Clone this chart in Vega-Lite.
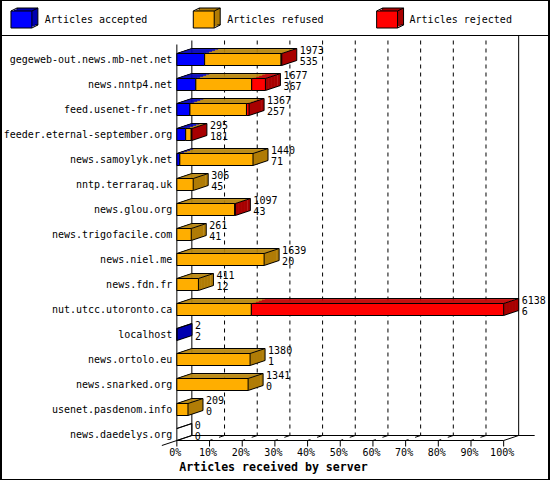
{
  "$schema": "https://vega.github.io/schema/vega-lite/v6.json",
  "width": 550,
  "height": 480,
  "autosize": {"type": "fit", "contains": "padding"},
  "padding": 0,
  "background": "white",
  "data": {
    "values": [
      {"kind": "frame", "zero": 0, "hundred": 100, "first": 1, "final": 16, "left": -53.81, "right": 113.87, "titlex": 29.57, "title": "Articles received by server"},
      {"kind": "legend", "series": "Articles accepted", "lx": -50.76, "lx2": -44.36, "lab": -40.4, "ly": -0.6},
      {"kind": "legend", "series": "Articles refused", "lx": 5.03, "lx2": 11.43, "lab": 15.4, "ly": -0.6},
      {"kind": "legend", "series": "Articles rejected", "lx": 61.13, "lx2": 67.53, "lab": 71.2, "ly": -0.6},
      {"kind": "tick", "pct": 0, "label": "0%", "final": 16},
      {"kind": "tick", "pct": 10, "label": "10%", "final": 16},
      {"kind": "tick", "pct": 20, "label": "20%", "final": 16},
      {"kind": "tick", "pct": 30, "label": "30%", "final": 16},
      {"kind": "tick", "pct": 40, "label": "40%", "final": 16},
      {"kind": "tick", "pct": 50, "label": "50%", "final": 16},
      {"kind": "tick", "pct": 60, "label": "60%", "final": 16},
      {"kind": "tick", "pct": 70, "label": "70%", "final": 16},
      {"kind": "tick", "pct": 80, "label": "80%", "final": 16},
      {"kind": "tick", "pct": 90, "label": "90%", "final": 16},
      {"kind": "tick", "pct": 100, "label": "100%", "final": 16},
      {"kind": "grid", "pct": 10, "final": 16, "first": 1},
      {"kind": "grid", "pct": 20, "final": 16, "first": 1},
      {"kind": "grid", "pct": 30, "final": 16, "first": 1},
      {"kind": "grid", "pct": 40, "final": 16, "first": 1},
      {"kind": "grid", "pct": 50, "final": 16, "first": 1},
      {"kind": "grid", "pct": 60, "final": 16, "first": 1},
      {"kind": "grid", "pct": 70, "final": 16, "first": 1},
      {"kind": "grid", "pct": 80, "final": 16, "first": 1},
      {"kind": "grid", "pct": 90, "final": 16, "first": 1},
      {"kind": "seg", "row": 1, "series": "Articles accepted", "start": 0, "end": 8.5},
      {"kind": "seg", "row": 1, "series": "Articles refused", "start": 8.5, "end": 31.9},
      {"kind": "seg", "row": 1, "series": "Articles rejected", "start": 31.9, "end": 32.1},
      {"kind": "seg", "row": 2, "series": "Articles accepted", "start": 0, "end": 5.8},
      {"kind": "seg", "row": 2, "series": "Articles refused", "start": 5.8, "end": 22.9},
      {"kind": "seg", "row": 2, "series": "Articles rejected", "start": 22.9, "end": 27.1},
      {"kind": "seg", "row": 3, "series": "Articles accepted", "start": 0, "end": 4.0},
      {"kind": "seg", "row": 3, "series": "Articles refused", "start": 4.0, "end": 21.3},
      {"kind": "seg", "row": 3, "series": "Articles rejected", "start": 21.3, "end": 22.1},
      {"kind": "seg", "row": 4, "series": "Articles accepted", "start": 0, "end": 2.7},
      {"kind": "seg", "row": 4, "series": "Articles refused", "start": 2.7, "end": 4.4},
      {"kind": "seg", "row": 4, "series": "Articles rejected", "start": 4.4, "end": 4.6},
      {"kind": "seg", "row": 5, "series": "Articles accepted", "start": 0, "end": 0.9},
      {"kind": "seg", "row": 5, "series": "Articles refused", "start": 0.9, "end": 23.3},
      {"kind": "seg", "row": 6, "series": "Articles refused", "start": 0, "end": 5.0},
      {"kind": "seg", "row": 7, "series": "Articles refused", "start": 0, "end": 17.7},
      {"kind": "seg", "row": 7, "series": "Articles rejected", "start": 17.7, "end": 17.9},
      {"kind": "seg", "row": 8, "series": "Articles refused", "start": 0, "end": 4.4},
      {"kind": "seg", "row": 9, "series": "Articles refused", "start": 0, "end": 26.7},
      {"kind": "seg", "row": 10, "series": "Articles refused", "start": 0, "end": 6.6},
      {"kind": "seg", "row": 11, "series": "Articles refused", "start": 0, "end": 22.8},
      {"kind": "seg", "row": 11, "series": "Articles rejected", "start": 22.8, "end": 100},
      {"kind": "seg", "row": 12, "series": "Articles accepted", "start": 0, "end": 0.05},
      {"kind": "seg", "row": 13, "series": "Articles refused", "start": 0, "end": 22.4},
      {"kind": "seg", "row": 14, "series": "Articles refused", "start": 0, "end": 21.8},
      {"kind": "seg", "row": 15, "series": "Articles refused", "start": 0, "end": 3.4},
      {"kind": "bar", "row": 1, "zero": 0, "host": "gegeweb-out.news.mb-net.net", "total": 1973, "other": 535, "end": 32.1, "last": "Articles rejected"},
      {"kind": "bar", "row": 2, "zero": 0, "host": "news.nntp4.net", "total": 1677, "other": 367, "end": 27.1, "last": "Articles rejected"},
      {"kind": "bar", "row": 3, "zero": 0, "host": "feed.usenet-fr.net", "total": 1367, "other": 257, "end": 22.1, "last": "Articles rejected"},
      {"kind": "bar", "row": 4, "zero": 0, "host": "feeder.eternal-september.org", "total": 295, "other": 181, "end": 4.6, "last": "Articles rejected"},
      {"kind": "bar", "row": 5, "zero": 0, "host": "news.samoylyk.net", "total": 1440, "other": 71, "end": 23.3, "last": "Articles refused"},
      {"kind": "bar", "row": 6, "zero": 0, "host": "nntp.terraraq.uk", "total": 306, "other": 45, "end": 5.0, "last": "Articles refused"},
      {"kind": "bar", "row": 7, "zero": 0, "host": "news.glou.org", "total": 1097, "other": 43, "end": 17.9, "last": "Articles rejected"},
      {"kind": "bar", "row": 8, "zero": 0, "host": "news.trigofacile.com", "total": 261, "other": 41, "end": 4.4, "last": "Articles refused"},
      {"kind": "bar", "row": 9, "zero": 0, "host": "news.niel.me", "total": 1639, "other": 20, "end": 26.7, "last": "Articles refused"},
      {"kind": "bar", "row": 10, "zero": 0, "host": "news.fdn.fr", "total": 411, "other": 12, "end": 6.6, "last": "Articles refused"},
      {"kind": "bar", "row": 11, "zero": 0, "host": "nut.utcc.utoronto.ca", "total": 6138, "other": 6, "end": 100, "last": "Articles rejected"},
      {"kind": "bar", "row": 12, "zero": 0, "host": "localhost", "total": 2, "other": 2, "end": 0.05, "last": "Articles accepted"},
      {"kind": "bar", "row": 13, "zero": 0, "host": "news.ortolo.eu", "total": 1380, "other": 1, "end": 22.4, "last": "Articles refused"},
      {"kind": "bar", "row": 14, "zero": 0, "host": "news.snarked.org", "total": 1341, "other": 0, "end": 21.8, "last": "Articles refused"},
      {"kind": "bar", "row": 15, "zero": 0, "host": "usenet.pasdenom.info", "total": 209, "other": 0, "end": 3.4, "last": "Articles refused"},
      {"kind": "bar", "row": 16, "zero": 0, "host": "news.daedelys.org", "total": 0, "other": 0, "end": 0, "last": "none"}
    ]
  },
  "layer": [
    {
      "transform": [{"filter": "datum.kind == 'frame'"}],
      "mark": {"type": "rule", "stroke": "black", "yOffset": -24},
      "encoding": {
        "x": {"field": "left", "type": "quantitative", "scale": {"domain": [-53.81, 113.87], "nice": false, "zero": false}, "axis": null},
        "x2": {"field": "right"},
        "y": {"field": "first", "type": "quantitative", "scale": {"domain": [-1.38, 17.82], "reverse": true, "nice": false, "zero": false}, "axis": null}
      }
    },
    {
      "transform": [{"filter": "datum.kind == 'frame'"}],
      "mark": {"type": "rule", "stroke": "black", "yOffset": 6},
      "encoding": {
        "x": {"field": "zero", "type": "quantitative", "axis": null},
        "x2": {"field": "hundred"},
        "y": {"field": "final", "type": "quantitative", "axis": null}
      }
    },
    {
      "transform": [{"filter": "datum.kind == 'frame'"}],
      "mark": {"type": "rule", "stroke": "black", "xOffset": 15, "x2Offset": 31, "yOffset": 1},
      "encoding": {
        "x": {"field": "zero", "type": "quantitative", "axis": null},
        "x2": {"field": "hundred"},
        "y": {"field": "final", "type": "quantitative", "axis": null}
      }
    },
    {
      "transform": [{"filter": "datum.kind == 'frame'"}],
      "mark": {"type": "rule", "stroke": "black", "xOffset": 15, "yOffset": -19, "y2Offset": 1},
      "encoding": {
        "x": {"field": "zero", "type": "quantitative", "axis": null},
        "y": {"field": "first", "type": "quantitative", "axis": null},
        "y2": {"field": "final"}
      }
    },
    {
      "transform": [{"filter": "datum.kind == 'frame'"}],
      "mark": {"type": "rule", "stroke": "black", "xOffset": 15, "yOffset": -24, "y2Offset": 1},
      "encoding": {
        "x": {"field": "hundred", "type": "quantitative", "axis": null},
        "y": {"field": "first", "type": "quantitative", "axis": null},
        "y2": {"field": "final"}
      }
    },
    {
      "transform": [{"filter": "datum.kind == 'frame'"}],
      "mark": {"type": "rule", "stroke": "black", "yOffset": -15, "y2Offset": 6},
      "encoding": {
        "x": {"field": "zero", "type": "quantitative", "axis": null},
        "y": {"field": "first", "type": "quantitative", "axis": null},
        "y2": {"field": "final"}
      }
    },
    {
      "transform": [{"filter": "datum.kind == 'frame'"}],
      "mark": {"type": "text", "align": "center", "baseline": "middle", "dy": 33, "font": "DejaVu Sans Mono", "fontSize": 11.6, "fontWeight": "bold", "fill": "black"},
      "encoding": {
        "x": {"field": "titlex", "type": "quantitative", "axis": null},
        "y": {"field": "final", "type": "quantitative", "axis": null},
        "text": {"field": "title", "type": "nominal"}
      }
    },
    {
      "transform": [{"filter": "datum.kind == 'tick'"}],
      "mark": {"type": "rule", "stroke": "black", "yOffset": 6, "y2Offset": 12},
      "encoding": {
        "x": {"field": "pct", "type": "quantitative", "axis": null},
        "y": {"field": "final", "type": "quantitative", "axis": null},
        "y2": {"field": "final"}
      }
    },
    {
      "transform": [{"filter": "datum.kind == 'tick'"}],
      "mark": {"type": "text", "align": "center", "baseline": "middle", "dx": -1.5, "dy": 18.5, "font": "DejaVu Sans Mono", "fontSize": 10, "fill": "black"},
      "encoding": {
        "x": {"field": "pct", "type": "quantitative", "axis": null},
        "y": {"field": "final", "type": "quantitative", "axis": null},
        "text": {"field": "label", "type": "nominal"}
      }
    },
    {
      "transform": [{"filter": "datum.kind == 'grid'"}],
      "mark": {"type": "rule", "stroke": "black", "strokeDash": [4, 4], "xOffset": 15, "yOffset": -19, "y2Offset": 1},
      "encoding": {
        "x": {"field": "pct", "type": "quantitative", "axis": null},
        "y": {"field": "first", "type": "quantitative", "axis": null},
        "y2": {"field": "final"}
      }
    },
    {
      "transform": [{"filter": "datum.kind == 'grid'"}],
      "mark": {"type": "rule", "stroke": "black", "strokeDash": [3, 7, 6], "x2Offset": 15, "yOffset": 6, "y2Offset": 1},
      "encoding": {
        "x": {"field": "pct", "type": "quantitative", "axis": null},
        "x2": {"field": "pct"},
        "y": {"field": "final", "type": "quantitative", "axis": null},
        "y2": {"field": "final"}
      }
    },
    {
      "transform": [{"filter": "datum.kind == 'frame'"}],
      "mark": {"type": "rule", "stroke": "black", "xOffset": -15, "x2Offset": 15, "yOffset": 11, "y2Offset": 1},
      "encoding": {
        "x": {"field": "zero", "type": "quantitative", "axis": null},
        "x2": {"field": "zero"},
        "y": {"field": "final", "type": "quantitative", "axis": null},
        "y2": {"field": "final"}
      }
    },
    {
      "transform": [{"filter": "datum.kind == 'frame'"}],
      "mark": {"type": "rule", "stroke": "black", "x2Offset": 15, "yOffset": 6, "y2Offset": 1},
      "encoding": {
        "x": {"field": "hundred", "type": "quantitative", "axis": null},
        "x2": {"field": "hundred"},
        "y": {"field": "final", "type": "quantitative", "axis": null},
        "y2": {"field": "final"}
      }
    },
    {
      "transform": [{"filter": "datum.kind == 'bar'"}],
      "mark": {"type": "text", "align": "right", "baseline": "middle", "dx": -4.5, "font": "DejaVu Sans Mono", "fontSize": 10, "fill": "black"},
      "encoding": {
        "x": {"field": "zero", "type": "quantitative", "axis": null},
        "y": {"field": "row", "type": "quantitative", "axis": null},
        "text": {"field": "host", "type": "nominal"}
      }
    },
    {
      "transform": [{"filter": "datum.kind == 'legend'"}],
      "mark": {"type": "rect", "stroke": "black", "strokeWidth": 1, "xOffset": 6, "x2Offset": 6, "yOffset": -11.5, "y2Offset": 5.5},
      "encoding": {
        "x": {"field": "lx", "type": "quantitative", "axis": null},
        "x2": {"field": "lx2"},
        "y": {"field": "ly", "type": "quantitative", "axis": null},
        "y2": {"field": "ly"},
        "color": {
          "field": "series",
          "type": "nominal",
          "scale": {"domain": ["Articles accepted", "Articles refused", "Articles rejected"], "range": ["#0000b0", "#b07c06", "#a80000"]},
          "legend": null
        }
      }
    },
    {
      "transform": [{"filter": "datum.kind == 'legend'"}],
      "mark": {"type": "rect", "xOffset": 3, "x2Offset": 3, "yOffset": -10, "y2Offset": 7},
      "encoding": {
        "x": {"field": "lx", "type": "quantitative", "axis": null},
        "x2": {"field": "lx2"},
        "y": {"field": "ly", "type": "quantitative", "axis": null},
        "y2": {"field": "ly"},
        "color": {"field": "series", "type": "nominal", "legend": null}
      }
    },
    {
      "transform": [{"filter": "datum.kind == 'legend'"}],
      "mark": {"type": "rule", "stroke": "black", "x2Offset": 6, "yOffset": -8.5, "y2Offset": -11.5},
      "encoding": {
        "x": {"field": "lx", "type": "quantitative", "axis": null},
        "x2": {"field": "lx"},
        "y": {"field": "ly", "type": "quantitative", "axis": null},
        "y2": {"field": "ly"}
      }
    },
    {
      "transform": [{"filter": "datum.kind == 'legend'"}],
      "mark": {"type": "rule", "stroke": "black", "x2Offset": 6, "yOffset": -8.5, "y2Offset": -11.5},
      "encoding": {
        "x": {"field": "lx2", "type": "quantitative", "axis": null},
        "x2": {"field": "lx2"},
        "y": {"field": "ly", "type": "quantitative", "axis": null},
        "y2": {"field": "ly"}
      }
    },
    {
      "transform": [{"filter": "datum.kind == 'legend'"}],
      "mark": {"type": "rule", "stroke": "black", "x2Offset": 6, "yOffset": 8.5, "y2Offset": 5.5},
      "encoding": {
        "x": {"field": "lx2", "type": "quantitative", "axis": null},
        "x2": {"field": "lx2"},
        "y": {"field": "ly", "type": "quantitative", "axis": null},
        "y2": {"field": "ly"}
      }
    },
    {
      "transform": [{"filter": "datum.kind == 'legend'"}],
      "mark": {"type": "text", "align": "left", "baseline": "middle", "font": "DejaVu Sans Mono", "fontSize": 10, "fill": "black"},
      "encoding": {
        "x": {"field": "lab", "type": "quantitative", "axis": null},
        "y": {"field": "ly", "type": "quantitative", "axis": null},
        "text": {"field": "series", "type": "nominal"}
      }
    },
    {
      "transform": [{"filter": "datum.kind == 'bar' && datum.last != 'none'"}],
      "mark": {"type": "rule", "strokeWidth": 3.6, "xOffset": 1.5, "yOffset": -6.5, "y2Offset": 5.5},
      "encoding": {
        "x": {"field": "end", "type": "quantitative", "axis": null},
        "y": {"field": "row", "type": "quantitative", "axis": null},
        "y2": {"field": "row"},
        "color": {"field": "last", "type": "nominal", "legend": null}
      }
    },
    {
      "transform": [{"filter": "datum.kind == 'bar' && datum.last != 'none'"}],
      "mark": {"type": "rule", "strokeWidth": 3.6, "xOffset": 4.5, "yOffset": -7.5, "y2Offset": 4.5},
      "encoding": {
        "x": {"field": "end", "type": "quantitative", "axis": null},
        "y": {"field": "row", "type": "quantitative", "axis": null},
        "y2": {"field": "row"},
        "color": {"field": "last", "type": "nominal", "legend": null}
      }
    },
    {
      "transform": [{"filter": "datum.kind == 'bar' && datum.last != 'none'"}],
      "mark": {"type": "rule", "strokeWidth": 3.6, "xOffset": 7.5, "yOffset": -8.5, "y2Offset": 3.5},
      "encoding": {
        "x": {"field": "end", "type": "quantitative", "axis": null},
        "y": {"field": "row", "type": "quantitative", "axis": null},
        "y2": {"field": "row"},
        "color": {"field": "last", "type": "nominal", "legend": null}
      }
    },
    {
      "transform": [{"filter": "datum.kind == 'bar' && datum.last != 'none'"}],
      "mark": {"type": "rule", "strokeWidth": 3.6, "xOffset": 10.5, "yOffset": -9.5, "y2Offset": 2.5},
      "encoding": {
        "x": {"field": "end", "type": "quantitative", "axis": null},
        "y": {"field": "row", "type": "quantitative", "axis": null},
        "y2": {"field": "row"},
        "color": {"field": "last", "type": "nominal", "legend": null}
      }
    },
    {
      "transform": [{"filter": "datum.kind == 'bar' && datum.last != 'none'"}],
      "mark": {"type": "rule", "strokeWidth": 3, "xOffset": 13.5, "yOffset": -10.5, "y2Offset": 1.5},
      "encoding": {
        "x": {"field": "end", "type": "quantitative", "axis": null},
        "y": {"field": "row", "type": "quantitative", "axis": null},
        "y2": {"field": "row"},
        "color": {"field": "last", "type": "nominal", "legend": null}
      }
    },
    {
      "transform": [{"filter": "datum.kind == 'seg'"}],
      "mark": {"type": "rule", "strokeWidth": 1.5, "xOffset": 1.5, "x2Offset": 1.5, "yOffset": -6.5},
      "encoding": {
        "x": {"field": "start", "type": "quantitative", "axis": null},
        "x2": {"field": "end"},
        "y": {"field": "row", "type": "quantitative", "axis": null},
        "stroke": {
          "field": "series",
          "type": "nominal",
          "scale": {"domain": ["Articles accepted", "Articles refused", "Articles rejected"], "range": ["#0000b8", "#b8860b", "#c00000"]},
          "legend": null
        }
      }
    },
    {
      "transform": [{"filter": "datum.kind == 'seg'"}],
      "mark": {"type": "rule", "strokeWidth": 1.5, "xOffset": 4.5, "x2Offset": 4.5, "yOffset": -7.5},
      "encoding": {
        "x": {"field": "start", "type": "quantitative", "axis": null},
        "x2": {"field": "end"},
        "y": {"field": "row", "type": "quantitative", "axis": null},
        "stroke": {"field": "series", "type": "nominal", "legend": null}
      }
    },
    {
      "transform": [{"filter": "datum.kind == 'seg'"}],
      "mark": {"type": "rule", "strokeWidth": 1.5, "xOffset": 7.5, "x2Offset": 7.5, "yOffset": -8.5},
      "encoding": {
        "x": {"field": "start", "type": "quantitative", "axis": null},
        "x2": {"field": "end"},
        "y": {"field": "row", "type": "quantitative", "axis": null},
        "stroke": {"field": "series", "type": "nominal", "legend": null}
      }
    },
    {
      "transform": [{"filter": "datum.kind == 'seg'"}],
      "mark": {"type": "rule", "strokeWidth": 1.5, "xOffset": 10.5, "x2Offset": 10.5, "yOffset": -9.5},
      "encoding": {
        "x": {"field": "start", "type": "quantitative", "axis": null},
        "x2": {"field": "end"},
        "y": {"field": "row", "type": "quantitative", "axis": null},
        "stroke": {"field": "series", "type": "nominal", "legend": null}
      }
    },
    {
      "transform": [{"filter": "datum.kind == 'seg'"}],
      "mark": {"type": "rule", "strokeWidth": 1.2, "xOffset": 13.5, "x2Offset": 13.5, "yOffset": -10.5},
      "encoding": {
        "x": {"field": "start", "type": "quantitative", "axis": null},
        "x2": {"field": "end"},
        "y": {"field": "row", "type": "quantitative", "axis": null},
        "stroke": {"field": "series", "type": "nominal", "legend": null}
      }
    },
    {
      "transform": [{"filter": "datum.kind == 'bar'"}],
      "mark": {"type": "rule", "stroke": "black", "x2Offset": 15, "yOffset": -6, "y2Offset": -11},
      "encoding": {
        "x": {"field": "zero", "type": "quantitative", "axis": null},
        "x2": {"field": "zero"},
        "y": {"field": "row", "type": "quantitative", "axis": null},
        "y2": {"field": "row"}
      }
    },
    {
      "transform": [{"filter": "datum.kind == 'bar'"}],
      "mark": {"type": "rule", "stroke": "black", "xOffset": 15, "x2Offset": 15, "yOffset": -11},
      "encoding": {
        "x": {"field": "zero", "type": "quantitative", "axis": null},
        "x2": {"field": "end"},
        "y": {"field": "row", "type": "quantitative", "axis": null}
      }
    },
    {
      "transform": [{"filter": "datum.kind == 'bar'"}],
      "mark": {"type": "rule", "stroke": "black", "x2Offset": 15, "yOffset": -6, "y2Offset": -11},
      "encoding": {
        "x": {"field": "end", "type": "quantitative", "axis": null},
        "x2": {"field": "end"},
        "y": {"field": "row", "type": "quantitative", "axis": null},
        "y2": {"field": "row"}
      }
    },
    {
      "transform": [{"filter": "datum.kind == 'bar'"}],
      "mark": {"type": "rule", "stroke": "black", "x2Offset": 15, "yOffset": 6, "y2Offset": 1},
      "encoding": {
        "x": {"field": "end", "type": "quantitative", "axis": null},
        "x2": {"field": "end"},
        "y": {"field": "row", "type": "quantitative", "axis": null},
        "y2": {"field": "row"}
      }
    },
    {
      "transform": [{"filter": "datum.kind == 'bar'"}],
      "mark": {"type": "rule", "stroke": "black", "xOffset": 15, "yOffset": -11, "y2Offset": 1},
      "encoding": {
        "x": {"field": "end", "type": "quantitative", "axis": null},
        "y": {"field": "row", "type": "quantitative", "axis": null},
        "y2": {"field": "row"}
      }
    },
    {
      "transform": [{"filter": "datum.kind == 'seg'"}],
      "mark": {"type": "rect", "stroke": "black", "strokeWidth": 1, "yOffset": -6, "y2Offset": 6},
      "encoding": {
        "x": {"field": "start", "type": "quantitative", "axis": null},
        "x2": {"field": "end"},
        "y": {"field": "row", "type": "quantitative", "axis": null},
        "y2": {"field": "row"},
        "fill": {
          "field": "series",
          "type": "nominal",
          "scale": {"domain": ["Articles accepted", "Articles refused", "Articles rejected"], "range": ["#0000ff", "#ffae00", "#ff0000"]},
          "legend": null
        }
      }
    },
    {
      "transform": [{"filter": "datum.kind == 'legend'"}],
      "mark": {"type": "rect", "stroke": "black", "strokeWidth": 1, "yOffset": -8.5, "y2Offset": 8.5},
      "encoding": {
        "x": {"field": "lx", "type": "quantitative", "axis": null},
        "x2": {"field": "lx2"},
        "y": {"field": "ly", "type": "quantitative", "axis": null},
        "y2": {"field": "ly"},
        "fill": {"field": "series", "type": "nominal", "legend": null}
      }
    },
    {
      "transform": [{"filter": "datum.kind == 'bar'"}],
      "mark": {"type": "text", "align": "left", "baseline": "middle", "dx": 18, "dy": -9, "font": "DejaVu Sans Mono", "fontSize": 10, "fill": "black"},
      "encoding": {
        "x": {"field": "end", "type": "quantitative", "axis": null},
        "y": {"field": "row", "type": "quantitative", "axis": null},
        "text": {"field": "total", "type": "nominal"}
      }
    },
    {
      "transform": [{"filter": "datum.kind == 'bar'"}],
      "mark": {"type": "text", "align": "left", "baseline": "middle", "dx": 18, "dy": 2, "font": "DejaVu Sans Mono", "fontSize": 10, "fill": "black"},
      "encoding": {
        "x": {"field": "end", "type": "quantitative", "axis": null},
        "y": {"field": "row", "type": "quantitative", "axis": null},
        "text": {"field": "other", "type": "nominal"}
      }
    }
  ],
  "config": {
    "view": {"stroke": "black", "strokeWidth": 2}
  }
}
